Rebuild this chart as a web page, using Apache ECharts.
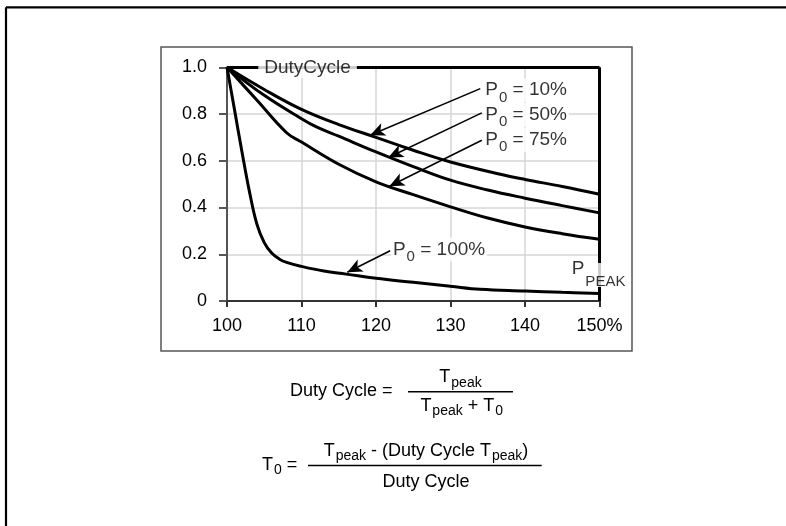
<!DOCTYPE html>
<html>
<head>
<meta charset="utf-8">
<script src="https://cdn.jsdelivr.net/npm/echarts@6/dist/echarts.min.js"></script>
<style>html,body{margin:0;padding:0;background:#fff;}#c{width:786px;height:526px;}</style>
</head>
<body>
<div id="c"></div>
<script>
// ---- data ----
const xTickLabels = {100:'100',110:'110',120:'120',130:'130',140:'140',150:'150%'};
const yTickLabels = {0:'0',0.2:'0.2',0.4:'0.4',0.6:'0.6',0.8:'0.8',1:'1.0'};

const x10 = [100,105,110,115,120,125,130,137,140,145,150];
const y10 = [1.0,0.905,0.82,0.755,0.70,0.645,0.595,0.54,0.52,0.49,0.457];

const x50 = [100,105,110,112,115,120,125,130,135,140,145,150];
const y50 = [1.0,0.88,0.78,0.745,0.705,0.638,0.575,0.517,0.475,0.44,0.408,0.377];

const x75 = [100,104,108,110,115,120,125,130,135,140,145,150];
const y75 = [1.0,0.86,0.72,0.68,0.585,0.51,0.455,0.403,0.355,0.317,0.288,0.264];

const x100 = [100,101,102,103,104,105,106,107,108,110,113,116,120,125,130,134,140,145,150];
const y100 = [1.0,0.82,0.64,0.47,0.33,0.25,0.205,0.18,0.165,0.148,0.128,0.115,0.097,0.08,0.063,0.05,0.043,0.037,0.032];

// arrows: [fromX, fromY, toX, toY]
const arrows = [
  [134.0,0.909,119.2,0.709],
  [134.2,0.805,121.65,0.614],
  [134.2,0.688,121.8,0.491],
  [121.9,0.215,116.15,0.123]
];
// labels: [x, y, main, sub, rest]
const curveLabels = [
  [134.4,0.903,'P','0',' = 10%'],
  [134.4,0.797,'P','0',' = 50%'],
  [134.4,0.690,'P','0',' = 75%'],
  [122.0,0.220,'P','0',' = 100%']
];
// [x, textY, backgroundY, main, sub]
const peakLabel = [146.0,0.137,0.111,'P','PEAK'];
const dutyLabel = [104.2,1.0,'DutyCycle'];
const frameLines = [[[100,1],[150,1]],[[150,1],[150,0]]];

const FONT = '"Liberation Sans", Arial, Helvetica, sans-serif';
const zip = (xs, ys) => xs.map((x,i)=>[x, ys[i]]);

function curve(name, xs, ys) {
  return {
    name, type:'line', data: zip(xs, ys), showSymbol:false, symbol:'none',
    smooth:0.4,
    lineStyle:{color:'#000', width:3}, z:3, silent:true
  };
}

const richText = {
  b:{fontSize:19, fontFamily:FONT, color:'#000', lineHeight:30},
  s:{fontSize:15, fontFamily:FONT, color:'#000', verticalAlign:'bottom', padding:[0,0,0,1]},
  bp:{fontSize:19, fontFamily:FONT, color:'#000', lineHeight:40},
  sp:{fontSize:15, fontFamily:FONT, color:'#000', verticalAlign:'bottom', padding:[0,0,0,1]},
  d:{fontSize:19, fontFamily:FONT, color:'#000', lineHeight:22}
};
const T = 'rgba(0,0,0,0)';
const richBg = {
  b:{fontSize:19, fontFamily:FONT, color:T, lineHeight:24},
  s:{fontSize:15, fontFamily:FONT, color:T, lineHeight:24, padding:[0,0,0,1]}
};
const richF = {
  b:{fontSize:18, fontFamily:FONT, fill:'#000'},
  s:{fontSize:14, fontFamily:FONT, fill:'#000', padding:[11,0,0,1]}
};

const chart = echarts.init(document.getElementById('c'), null, {renderer:'canvas'});
const option = {
  animation:false,
  backgroundColor:'#fff',
  grid:{left:227, right:186.5, top:67.3, bottom:225, containLabel:false},
  xAxis:{
    type:'value', min:100, max:150, interval:10,
    axisLine:{show:true, lineStyle:{color:'#333', width:2}},
    axisTick:{show:true, length:6, lineStyle:{color:'#333', width:2}},
    axisLabel:{margin:16, fontSize:18, fontFamily:FONT, color:'#000',
      formatter:v=>xTickLabels[v] !== undefined ? xTickLabels[v] : ''},
    splitLine:{show:true, lineStyle:{color:'#d6d6d6', width:1.5}}
  },
  yAxis:{
    type:'value', min:0, max:1, interval:0.2,
    axisLine:{show:true, lineStyle:{color:'#555', width:2}},
    axisTick:{show:true, length:8, lineStyle:{color:'#555', width:2}},
    axisLabel:{margin:20, fontSize:18, fontFamily:FONT, color:'#000',
      formatter:v=>{const k=Math.round(v*10)/10; return yTickLabels[k] !== undefined ? yTickLabels[k] : '';}},
    splitLine:{show:true, lineStyle:{color:'#d6d6d6', width:1.5}}
  },
  series:[
    {
      type:'line', data:[], silent:true, z:2,
      markLine:{
        silent:true, symbol:['none','none'], animation:false,
        label:{show:false},
        lineStyle:{color:'#000', width:3, type:'solid'},
        emphasis:{disabled:true},
        data: frameLines.map(l=>[{coord:l[0]},{coord:l[1]}])
      }
    },
    curve('P0 = 10%', x10, y10),
    curve('P0 = 50%', x50, y50),
    curve('P0 = 75%', x75, y75),
    curve('P0 = 100%', x100, y100),
    {
      type:'line', data:[], silent:true, z:4,
      markLine:{
        silent:true, symbol:['none','arrow'], symbolSize:[10,15], animation:false,
        label:{show:false},
        lineStyle:{color:'#000', width:1.5, type:'solid'},
        emphasis:{disabled:true},
        data: arrows.map(a=>[{coord:[a[0],a[1]]},{coord:[a[2],a[3]]}])
      }
    },
    // label backgrounds (white boxes that interrupt grid/frame lines)
    {
      type:'scatter', symbolSize:0, silent:true, z:9,
      data: curveLabels.map(l=>({
        value:[l[0],l[1]],
        label:{show:true, position:'right', distance:0, color:T,
          backgroundColor:'#fff', padding:[0,2],
          formatter:'{b|'+l[2]+'}{s|'+l[3]+'}{b|'+l[4]+'}', rich:richBg}
      })).concat([
        {value:[peakLabel[0],peakLabel[2]],
         label:{show:true, position:'right', distance:0, color:T, backgroundColor:'#fff', padding:[0,2],
           formatter:'{b|'+peakLabel[3]+'}{s|'+peakLabel[4]+'}', rich:richBg}}
      ])
    },
    // label texts
    {
      type:'scatter', symbolSize:0, silent:true, z:10,
      data: curveLabels.map(l=>({
        value:[l[0],l[1]],
        label:{show:true, position:'right', distance:0, color:'#000', padding:[0,2],
          formatter:'{b|'+l[2]+'}{s|'+l[3]+'}{b|'+l[4]+'}', rich:richText}
      })).concat([
        {value:[peakLabel[0],peakLabel[1]],
         label:{show:true, position:'right', distance:0, color:'#000', padding:[0,2],
           formatter:'{bp|'+peakLabel[3]+'}{sp|'+peakLabel[4]+'}', rich:richText}},
        {value:[dutyLabel[0],dutyLabel[1]],
         label:{show:true, position:'right', distance:0, color:'#000', backgroundColor:'#fff', padding:[0,6],
           formatter:'{d|'+dutyLabel[2]+'}', rich:richText}}
      ])
    }
  ],
  graphic:[
    {type:'line', shape:{x1:6,y1:7.3,x2:786,y2:7.3}, style:{stroke:'#000', lineWidth:2.2}, silent:true},
    {type:'line', shape:{x1:6,y1:7.3,x2:6,y2:526}, style:{stroke:'#000', lineWidth:2.2}, silent:true},
    {type:'rect', shape:{x:161,y:47,width:471,height:304}, style:{fill:'none', stroke:'#555', lineWidth:1.5}, silent:true, z:-1},
    // formula 1
    {type:'text', x:290, y:391, style:{text:'Duty Cycle =', font:'18px '+FONT, fill:'#000', verticalAlign:'middle', align:'left'}, silent:true},
    {type:'text', x:460.5, y:377.5, style:{text:'{b|T}{s|peak}', rich:richF, align:'center', verticalAlign:'middle'}, silent:true},
    {type:'line', shape:{x1:408,y1:391.7,x2:513,y2:391.7}, style:{stroke:'#000', lineWidth:1.5}, silent:true},
    {type:'text', x:461.7, y:406, style:{text:'{b|T}{s|peak}{b| + T}{s|0}', rich:richF, align:'center', verticalAlign:'middle'}, silent:true},
    // formula 2
    {type:'text', x:262, y:465, style:{text:'{b|T}{s|0}{b| =}', rich:richF, align:'left', verticalAlign:'middle'}, silent:true},
    {type:'line', shape:{x1:308,y1:465.5,x2:541.7,y2:465.5}, style:{stroke:'#000', lineWidth:1.5}, silent:true},
    {type:'text', x:426, y:451, style:{text:'{b|T}{s|peak}{b| - (Duty Cycle T}{s|peak}{b|)}', rich:richF, align:'center', verticalAlign:'middle'}, silent:true},
    {type:'text', x:426, y:482.5, style:{text:'Duty Cycle', font:'18px '+FONT, fill:'#000', verticalAlign:'middle', align:'center'}, silent:true}
  ]
};
chart.setOption(option);
</script>
</body>
</html>
